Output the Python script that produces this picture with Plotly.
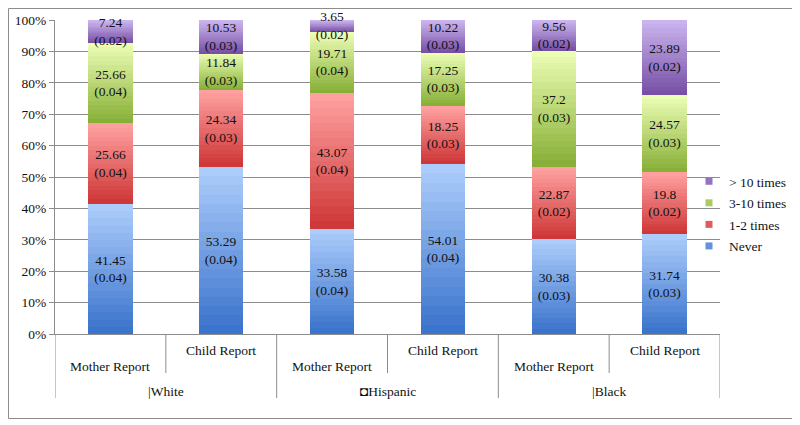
import plotly.graph_objects as go

# data (percent, with standard errors)
groups = ["|White", "\u25d8Hispanic", "|Black"]
reports = ["Mother Report", "Child Report"]
series_names = ["Never", "1-2 times", "3-10 times", "> 10 times"]

never = [41.45, 53.29, 33.58, 54.01, 30.38, 31.74]
one_two = [25.66, 24.34, 43.07, 18.25, 22.87, 19.8]
three_ten = [25.66, 11.84, 19.71, 17.25, 37.2, 24.57]
over_ten = [7.24, 10.53, 3.65, 10.22, 9.56, 23.89]

never_se = [0.04, 0.04, 0.04, 0.04, 0.03, 0.03]
one_two_se = [0.04, 0.03, 0.04, 0.03, 0.02, 0.02]
three_ten_se = [0.04, 0.03, 0.04, 0.03, 0.03, 0.03]
over_ten_se = [0.02, 0.03, 0.02, 0.03, 0.02, 0.02]

# (bottom colour, top colour) of the excel-style gradient
colors = [
    ("#3b74cc", "#acccfb"),
    ("#cf3838", "#ffa0a0"),
    ("#88b038", "#ecfdb4"),
    ("#7850a6", "#cab4ee"),
]

values = [never, one_two, three_ten, over_ten]
ses = [never_se, one_two_se, three_ten_se, over_ten_se]
xpos = list(range(len(never)))
totals = [sum(v[i] for v in values) for i in xpos]

FONT = "Liberation Serif"
FS = 13.5
N = 18  # slices per segment to fake the gradient
BW = 0.4
OFF = 8  # page body margin


def hex2rgb(h):
    return [int(h[i:i + 2], 16) for i in (1, 3, 5)]


def mix(c1, c2, t):
    a, b = hex2rgb(c1), hex2rgb(c2)
    return "rgb(%d,%d,%d)" % tuple(round(a[k] + (b[k] - a[k]) * t) for k in range(3))


fig = go.Figure()

bases = [0.0] * len(xpos)
seg_bases = []
seg_heights = []
for s, vals in enumerate(values):
    h = [vals[i] * 100 / totals[i] for i in xpos]
    seg_bases.append(list(bases))
    seg_heights.append(h)
    for j in range(N):
        fig.add_trace(go.Bar(
            x=xpos, y=[hh / N for hh in h],
            base=[bases[i] + h[i] * j / N for i in xpos],
            width=BW, marker=dict(color=mix(colors[s][0], colors[s][1], j / (N - 1)), line_width=0),
            showlegend=False, hoverinfo="skip",
        ))
    bases = [bases[i] + h[i] for i in xpos]

# legend entries (top of legend = top of stack)
for s, name in enumerate(series_names):
    fig.add_trace(go.Scatter(
        x=[None], y=[None], name=name, legendgroup=name, legendrank=10 - s,
        mode="markers", marker=dict(symbol="square", size=7,
                                    color=mix(colors[s][0], colors[s][1], 0.35)),
    ))

# value labels
for s, vals in enumerate(values):
    fig.add_trace(go.Bar(
        x=xpos, y=seg_heights[s], base=seg_bases[s], width=BW,
        marker=dict(color="rgba(0,0,0,0)", line_width=0),
        text=[f"{vals[i]}<br>({ses[s][i]:.2f})" for i in xpos],
        textposition="inside", insidetextanchor="middle", textangle=0,
        textfont=dict(family=FONT, size=FS, color="#111"), cliponaxis=False,
        showlegend=False, hoverinfo="skip",
    ))

TOP, BOT = 20 - OFF, 334 - OFF
L, R = 55 - OFF, 720 - OFF


def py(y):
    return (BOT - (y - OFF)) / (BOT - TOP)


def pxp(x):
    return ((x - OFF) - L) / (R - L)


shapes = []
annotations = []
line = dict(color="#8c8c8c", width=1)
for g, name in enumerate(groups):
    for r, rep in enumerate(reports):
        i = g * 2 + r
        annotations.append(dict(
            x=i, y=py(366 if r == 0 else 350), xref="x", yref="paper", text=rep,
            yanchor="middle", showarrow=False, font=dict(family=FONT, size=FS, color="#111"),
        ))
    annotations.append(dict(
        x=g * 2 + 0.5, y=py(391), xref="x", yref="paper", text=name,
        yanchor="middle", showarrow=False, font=dict(family=FONT, size=FS, color="#111"),
    ))
for b in [-0.5, 1.5, 3.5, 5.5]:
    shapes.append(dict(type="line", xref="x", yref="paper", x0=b, x1=b, y0=0, y1=py(398), line=line))
for b in [0.5, 2.5, 4.5]:
    shapes.append(dict(type="line", xref="x", yref="paper", x0=b, x1=b, y0=0, y1=py(373), line=line))
shapes.append(dict(type="rect", xref="paper", yref="paper",
                   x0=pxp(8.5), x1=pxp(792.5), y0=py(418.5), y1=py(8.5),
                   line=dict(color="#8c8c8c", width=1)))

fig.update_layout(
    width=800, height=425,
    margin=dict(l=L, r=800 - R, t=TOP, b=425 - BOT),
    barmode="overlay", bargap=0,
    plot_bgcolor="white", paper_bgcolor="white",
    font=dict(family=FONT, size=FS, color="#111"),
    uniformtext=dict(minsize=FS, mode="show"),
    xaxis=dict(range=[-0.5, 5.5], showticklabels=False, showgrid=False, zeroline=False,
               showline=True, linecolor="#8c8c8c", ticks="", automargin=False),
    yaxis=dict(range=[0, 100], tickvals=list(range(0, 101, 10)),
               ticktext=[f"{v}%" for v in range(0, 101, 10)],
               showgrid=True, gridcolor="#8c8c8c", zeroline=False,
               showline=True, linecolor="#8c8c8c", ticks="outside", ticklen=5, tickcolor="#8c8c8c",
               tickfont=dict(family=FONT, size=FS, color="#111"), automargin=False),
    legend=dict(x=pxp(689), xanchor="left", y=py(166), yanchor="top",
                traceorder="grouped", tracegroupgap=1,
                font=dict(family=FONT, size=FS, color="#111"),
                bgcolor="rgba(0,0,0,0)"),
    shapes=shapes, annotations=annotations,
)

fig.write_html("out.html")
